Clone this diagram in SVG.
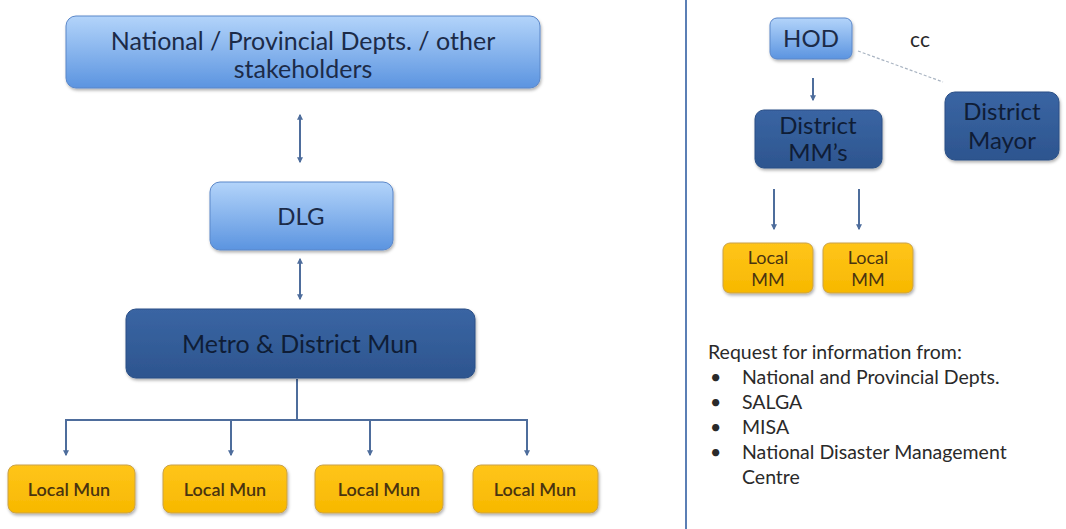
<svg xmlns="http://www.w3.org/2000/svg" width="1066" height="529" viewBox="0 0 1066 529">
  <defs>
    <linearGradient id="gLight" x1="0" y1="0" x2="0" y2="1">
      <stop offset="0" stop-color="#b3d4fa"/>
      <stop offset="1" stop-color="#5b94e0"/>
    </linearGradient>
    <linearGradient id="gDark" x1="0" y1="0" x2="0" y2="1">
      <stop offset="0" stop-color="#3a65a3"/>
      <stop offset="1" stop-color="#2d558f"/>
    </linearGradient>
    <linearGradient id="gGold" x1="0" y1="0" x2="0" y2="1">
      <stop offset="0" stop-color="#ffc51a"/>
      <stop offset="1" stop-color="#f7b800"/>
    </linearGradient>
    <filter id="shadow" x="-10%" y="-10%" width="120%" height="130%">
      <feDropShadow dx="1" dy="2" stdDeviation="1.5" flood-color="#000" flood-opacity="0.3"/>
    </filter>
    <marker id="ah" viewBox="0 0 10 10" refX="8" refY="5" markerWidth="3" markerHeight="3" orient="auto-start-reverse">
      <path d="M0,0 L10,5 L0,10 z" fill="#4e6d9c"/>
    </marker>
  </defs>
  <style>
    .light { fill: url(#gLight); stroke: #5b87c9; stroke-width: 1; filter: url(#shadow); }
    .dark { fill: url(#gDark); stroke: #2a4f86; stroke-width: 1; filter: url(#shadow); }
    .gold { fill: url(#gGold); stroke: #c9a24a; stroke-width: 1; filter: url(#shadow); }
    text { font-family: Lato, "Open Sans", "Liberation Sans", sans-serif; text-anchor: middle; }
    .tl { fill: #1c2b48; font-size: 24px; }
    .td { fill: #0f1d36; font-size: 24px; }
    .tg { fill: #4a3410; font-size: 18px; font-weight: 600; }
    .tm { fill: #4a3410; font-size: 18px; }
    .conn { stroke: #4e6d9c; stroke-width: 2; fill: none; }
    .list { fill: #2a2a2a; font-size: 19.5px; text-anchor: start; }
  </style>

  <rect width="1066" height="529" fill="#ffffff"/>

  <!-- divider between the two panels -->
  <line x1="686" y1="0" x2="686" y2="529" stroke="#5b7fb5" stroke-width="2"/>

  <g id="connectors">
    <line class="conn" x1="300" y1="115" x2="300" y2="162" marker-start="url(#ah)" marker-end="url(#ah)"/>
    <line class="conn" x1="300" y1="259" x2="300" y2="299" marker-start="url(#ah)" marker-end="url(#ah)"/>
    <polyline class="conn" points="297,379 297,420"/>
    <polyline class="conn" points="66,455 66,420 527,420 527,455" marker-start="url(#ah)" marker-end="url(#ah)"/>
    <line class="conn" x1="231" y1="420" x2="231" y2="455" marker-end="url(#ah)"/>
    <line class="conn" x1="370" y1="420" x2="370" y2="455" marker-end="url(#ah)"/>
    <line class="conn" x1="813" y1="78" x2="813" y2="100" marker-end="url(#ah)"/>
    <line class="conn" x1="774" y1="189" x2="774" y2="229" marker-end="url(#ah)"/>
    <line class="conn" x1="859" y1="189" x2="859" y2="229" marker-end="url(#ah)"/>
    <line x1="858" y1="51" x2="943" y2="82" stroke="#a9b4c2" stroke-width="1.2" stroke-dasharray="3,2"/>
  </g>

  <g id="n-national">
    <rect class="light" x="66" y="16" width="474" height="72" rx="10"/>
    <text class="tl" x="303" y="50" style="font-size:25px">National / Provincial Depts. / other</text>
    <text class="tl" x="303" y="78" style="font-size:25px">stakeholders</text>
  </g>
  <g id="n-dlg">
    <rect class="light" x="210" y="182" width="183" height="68" rx="10"/>
    <text class="tl" x="301" y="225">DLG</text>
  </g>
  <g id="n-metro">
    <rect class="dark" x="126" y="309" width="349" height="69" rx="10"/>
    <text class="td" x="300" y="353" style="font-size:25px">Metro &amp; District Mun</text>
  </g>
  <g id="n-local1">
    <rect class="gold" x="8" y="465" width="127" height="48" rx="8"/>
    <text class="tg" x="69" y="496">Local Mun</text>
  </g>
  <g id="n-local2">
    <rect class="gold" x="163" y="465" width="124" height="48" rx="8"/>
    <text class="tg" x="225" y="496">Local Mun</text>
  </g>
  <g id="n-local3">
    <rect class="gold" x="315" y="465" width="128" height="48" rx="8"/>
    <text class="tg" x="379" y="496">Local Mun</text>
  </g>
  <g id="n-local4">
    <rect class="gold" x="473" y="465" width="125" height="48" rx="8"/>
    <text class="tg" x="535" y="496">Local Mun</text>
  </g>

  <g id="n-hod">
    <rect class="light" x="770" y="18" width="82" height="41" rx="7"/>
    <text class="tl" x="811" y="47">HOD</text>
  </g>
  <text x="920" y="47" style="fill:#2a2a2a;font-size:21px">cc</text>
  <g id="n-mayor">
    <rect class="dark" x="945" y="92" width="114" height="68" rx="10"/>
    <text class="td" x="1002" y="120">District</text>
    <text class="td" x="1002" y="149">Mayor</text>
  </g>
  <g id="n-districtmm">
    <rect class="dark" x="755" y="110" width="127" height="58" rx="9"/>
    <text class="td" x="818" y="134">District</text>
    <text class="td" x="818" y="161">MM’s</text>
  </g>
  <g id="n-localmm1">
    <rect class="gold" x="723" y="243" width="90" height="50" rx="7"/>
    <text class="tm" x="768" y="264">Local</text>
    <text class="tm" x="768" y="286">MM</text>
  </g>
  <g id="n-localmm2">
    <rect class="gold" x="823" y="243" width="90" height="50" rx="7"/>
    <text class="tm" x="868" y="264">Local</text>
    <text class="tm" x="868" y="286">MM</text>
  </g>

  <g id="requests">
    <text class="list" x="708" y="359">Request for information from:</text>
    <text class="list" x="710" y="384">•</text>
    <text class="list" x="742" y="384">National and Provincial Depts.</text>
    <text class="list" x="710" y="409">•</text>
    <text class="list" x="742" y="409">SALGA</text>
    <text class="list" x="710" y="434">•</text>
    <text class="list" x="742" y="434">MISA</text>
    <text class="list" x="710" y="459">•</text>
    <text class="list" x="742" y="459">National Disaster Management</text>
    <text class="list" x="742" y="484">Centre</text>
  </g>
</svg>
